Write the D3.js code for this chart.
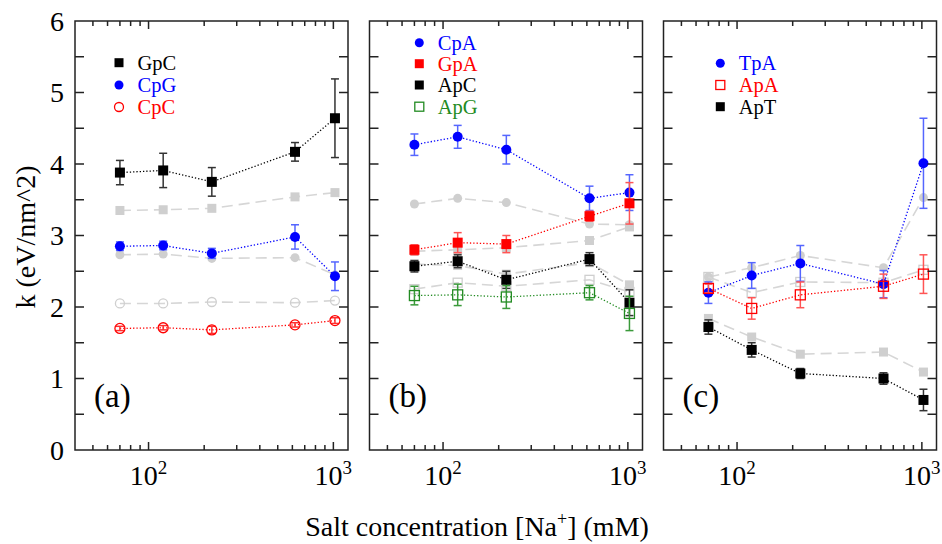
<!DOCTYPE html>
<html lang="en">
  <head>
    <title>k vs salt</title>
    <script src="https://d3js.org/d3.v7.min.js"></script>
    <style>
      body { margin: 0; background: #fff; }
    </style>
  </head>
  <body>
    <div id='chart'></div>
    <script type='text/javascript'>
      // salt concentrations (mM), shared by every series
      const conc = [70, 120, 220, 620, 1020];

      // panel (a)
      const gpc = [3.88, 3.91, 3.75, 4.17, 4.64];
      const gpcErr = [0.17, 0.24, 0.2, 0.13, 0.55];
      const gpcRef = [3.35, 3.36, 3.38, 3.54, 3.60];
      const cpg = [2.85, 2.86, 2.75, 2.98, 2.43];
      const cpgErr = [0.06, 0.06, 0.07, 0.17, 0.2];
      const cpgRef = [2.73, 2.74, 2.68, 2.69, 2.45];
      const cpc = [1.70, 1.71, 1.68, 1.75, 1.81];
      const cpcErr = [0.03, 0.03, 0.05, 0.03, 0.04];
      const cpcRef = [2.05, 2.05, 2.07, 2.06, 2.09];

      // panel (b)
      const cpa = [4.27, 4.38, 4.20, 3.52, 3.60];
      const cpaErr = [0.15, 0.16, 0.2, 0.17, 0.25];
      const cpaRef = [3.44, 3.52, 3.46, 3.16, 3.15];
      const gpa = [2.80, 2.90, 2.88, 3.27, 3.45];
      const gpaErr = [0.07, 0.14, 0.12, 0.07, 0.29];
      const gpaRef = [2.78, 2.80, 2.83, 2.93, 3.12];
      const apc = [2.57, 2.64, 2.38, 2.67, 2.06];
      const apcErr = [0.08, 0.09, 0.12, 0.09, 0.18];
      const apcRef = [2.60, 2.58, 2.46, 2.62, 2.31];
      const apg = [2.16, 2.17, 2.14, 2.20, 1.91];
      const apgErr = [0.13, 0.15, 0.16, 0.1, 0.24];
      const apgRef = [2.25, 2.34, 2.29, 2.38, 2.21];

      // panel (c)
      const tpa = [2.20, 2.44, 2.61, 2.32, 4.01];
      const tpaErr = [0.15, 0.18, 0.25, 0.19, 0.63];
      const tpaRef = [2.42, 2.55, 2.72, 2.55, 3.53];
      const apa = [2.26, 1.98, 2.17, 2.29, 2.46];
      const apaErr = [0.06, 0.15, 0.18, 0.17, 0.27];
      const apaRef = [2.42, 2.20, 2.35, 2.34, 2.52];
      const apt = [1.72, 1.40, 1.07, 1.00, 0.70];
      const aptErr = [0.1, 0.1, 0.07, 0.08, 0.15];
      const aptRef = [1.84, 1.58, 1.34, 1.37, 1.09];

      const yTicks = [0, 1, 2, 3, 4, 5, 6];
      const xTickExp = [2, 3];

      const GREY = '#cfcfcf';
      const panels = [
        { label: '(a)', x0: 75, legendX: 119, legendY: [62.7, 85, 107],
          series: [
            { name: 'GpC', v: gpc, err: gpcErr, ref: gpcRef, color: '#000', errColor: '#333', shape: 'square', fill: true },
            { name: 'CpG', v: cpg, err: cpgErr, ref: cpgRef, color: '#0000ff', errColor: '#5566ff', shape: 'circle', fill: true },
            { name: 'CpC', v: cpc, err: cpcErr, ref: cpcRef, color: '#ff0000', errColor: '#ff3030', shape: 'circle', fill: false }
          ] },
        { label: '(b)', x0: 369.5, legendX: 419.3, legendY: [42.7, 63.7, 85, 106.7],
          series: [
            { name: 'CpA', v: cpa, err: cpaErr, ref: cpaRef, color: '#0000ff', errColor: '#5566ff', shape: 'circle', fill: true },
            { name: 'GpA', v: gpa, err: gpaErr, ref: gpaRef, color: '#ff0000', errColor: '#ff5555', shape: 'square', fill: true },
            { name: 'ApC', v: apc, err: apcErr, ref: apcRef, color: '#000', errColor: '#333', shape: 'square', fill: true },
            { name: 'ApG', v: apg, err: apgErr, ref: apgRef, color: '#228b22', errColor: '#3a9a3a', shape: 'square', fill: false }
          ] },
        { label: '(c)', x0: 663.5, legendX: 720.3, legendY: [63.3, 85, 106.7],
          series: [
            { name: 'TpA', v: tpa, err: tpaErr, ref: tpaRef, color: '#0000ff', errColor: '#5566ff', shape: 'circle', fill: true },
            { name: 'ApA', v: apa, err: apaErr, ref: apaRef, color: '#ff0000', errColor: '#ff5555', shape: 'square', fill: false },
            { name: 'ApT', v: apt, err: aptErr, ref: aptRef, color: '#000', errColor: '#333', shape: 'square', fill: true }
          ] }
      ];

      const width = 942, height = 544;
      const panelW = 273;
      const svg = d3.select('#chart').append('svg')
        .attr('width', width)
        .attr('height', height);

      const y = d3.scaleLinear().domain([0, 6]).range([450, 21]);

      function label(sel) {
        return sel.append('text').style('font-family', "'Liberation Serif'");
      }

      function marker(g, shape, fill, color, cx, cy, s) {
        if (shape === 'square') {
          g.append('rect')
            .attr('x', cx - s / 2).attr('y', cy - s / 2)
            .attr('width', s).attr('height', s)
            .attr('fill', fill ? color : 'none')
            .attr('stroke', color)
            .attr('stroke-width', fill ? 0 : 1.3);
        } else {
          g.append('circle')
            .attr('cx', cx).attr('cy', cy)
            .attr('r', s / 2)
            .attr('fill', fill ? color : 'none')
            .attr('stroke', color)
            .attr('stroke-width', fill ? 0 : 1.3);
        }
      }

      panels.forEach((p, pi) => {
        const x = d3.scaleLog().domain([40, 1200]).range([p.x0, p.x0 + panelW]);
        const g = svg.append('g');
        const line = d3.line().x((d, i) => x(conc[i])).y(d => y(d));

        // grey reference curves behind
        p.series.forEach(s => {
          g.append('path')
            .datum(s.ref)
            .attr('d', line)
            .attr('fill', 'none')
            .attr('stroke', '#d6d6d6')
            .attr('stroke-width', 1.6)
            .attr('stroke-dasharray', '11,6');
          s.ref.forEach((d, i) => marker(g, s.shape, s.fill, GREY, x(conc[i]), y(d), 9));
        });

        // coloured series
        p.series.forEach(s => {
          g.append('path')
            .datum(s.v)
            .attr('d', line)
            .attr('fill', 'none')
            .attr('stroke', s.color)
            .attr('stroke-width', 1.3)
            .attr('stroke-dasharray', '1.3,2');
          s.v.forEach((d, i) => {
            const cx = x(conc[i]);
            const eg = g.append('g').attr('stroke', s.errColor).attr('stroke-width', 1.5);
            eg.append('line').attr('x1', cx).attr('x2', cx).attr('y1', y(d - s.err[i])).attr('y2', y(d + s.err[i]));
            eg.append('line').attr('x1', cx - 4).attr('x2', cx + 4).attr('y1', y(d - s.err[i])).attr('y2', y(d - s.err[i]));
            eg.append('line').attr('x1', cx - 4).attr('x2', cx + 4).attr('y1', y(d + s.err[i])).attr('y2', y(d + s.err[i]));
          });
          s.v.forEach((d, i) => marker(g, s.shape, s.fill, s.color, x(conc[i]), y(d), 10));
        });

        // frame and ticks
        const fr = svg.append('g').attr('stroke', '#222').attr('stroke-width', 1.5);
        fr.append('rect')
          .attr('x', p.x0).attr('y', y(6))
          .attr('width', panelW).attr('height', y(0) - y(6))
          .attr('fill', 'none');
        x.ticks().filter(t => t > 40 && t < 1200).forEach(t => {
          const major = Math.abs(Math.log10(t) - Math.round(Math.log10(t))) < 1e-9;
          const len = major ? 8 : 5;
          fr.append('line').attr('x1', x(t)).attr('x2', x(t)).attr('y1', y(0)).attr('y2', y(0) - len);
          fr.append('line').attr('x1', x(t)).attr('x2', x(t)).attr('y1', y(6)).attr('y2', y(6) + len);
        });
        d3.range(0.5, 6, 0.5).forEach(t => {
          fr.append('line').attr('x1', p.x0).attr('x2', p.x0 + 9).attr('y1', y(t)).attr('y2', y(t));
          fr.append('line').attr('x1', p.x0 + panelW).attr('x2', p.x0 + panelW - 9).attr('y1', y(t)).attr('y2', y(t));
        });

        // x tick labels
        xTickExp.forEach(e => {
          const t = label(svg)
            .attr('x', x(Math.pow(10, e)))
            .attr('y', 485)
            .attr('text-anchor', 'middle')
            .attr('font-size', 28)
            .attr('fill', '#000');
          t.append('tspan').text('10');
          t.append('tspan').attr('dy', -11).attr('font-size', 19).text(e);
        });

        // panel label
        label(svg)
          .attr('x', p.x0 + 19)
          .attr('y', 407)
          .attr('font-size', 33)
          .text(p.label);

        // legend
        p.series.forEach((s, i) => {
          const ly = p.legendY[i];
          marker(svg, s.shape, s.fill, s.color, p.legendX, ly, 9);
          label(svg)
            .attr('x', p.legendX + 18.5)
            .attr('y', ly + 6.8)
            .attr('font-size', 20.5)
            .attr('fill', s.color)
            .text(s.name);
        });

        // y tick labels on the first panel only
        if (pi === 0) {
          yTicks.forEach(t => {
            label(svg)
              .attr('x', 64)
              .attr('y', y(t) + 9.5)
              .attr('text-anchor', 'end')
              .attr('font-size', 28)
              .text(t);
          });
        }
      });

      // axis titles
      label(svg)
        .attr('transform', 'translate(35,237) rotate(-90)')
        .attr('text-anchor', 'middle')
        .attr('font-size', 28)
        .text('k (eV/nm^2)');

      const xl = label(svg)
        .attr('x', 477)
        .attr('y', 536)
        .attr('text-anchor', 'middle')
        .attr('font-size', 28);
      xl.append('tspan').text('Salt concentration [Na');
      xl.append('tspan').attr('dy', -11).attr('font-size', 18).text('+');
      xl.append('tspan').attr('dy', 11).text('] (mM)');
    </script>
  </body>
</html>
